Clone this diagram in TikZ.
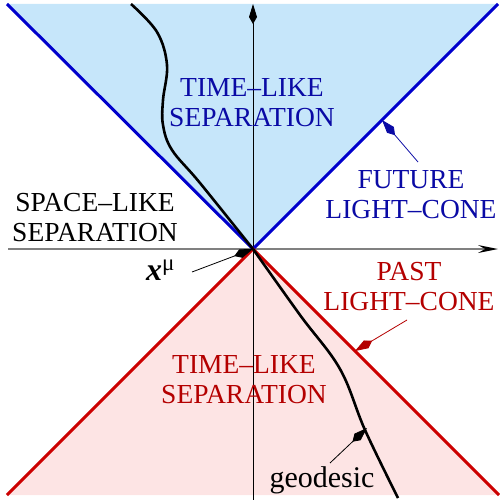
\documentclass[tikz,border=0pt]{standalone}
\usepackage{fontspec}
\setmainfont{LiberationSerif}[Extension=.ttf, UprightFont=*-Regular, BoldFont=*-Bold, ItalicFont=*-Italic, BoldItalicFont=*-BoldItalic]
\usetikzlibrary{arrows.meta}
\definecolor{futfill}{RGB}{198,230,250}
\definecolor{pastfill}{RGB}{253,228,228}
\definecolor{futline}{RGB}{0,0,204}
\definecolor{pastline}{RGB}{204,0,0}
\definecolor{futtext}{RGB}{10,10,165}
\definecolor{pasttext}{RGB}{180,0,0}
\begin{document}
\begin{tikzpicture}[x=1pt,y=-1pt,
    lbl/.style={align=center, font=\fontsize{27.5}{30}\selectfont, inner sep=1pt},
    cone/.style={line width=3pt},
    pin/.style={-{Kite[length=20pt,width=9pt,inset=7pt]}, line width=0.8pt},
    axis/.style={-{Kite[length=20pt,width=8pt,inset=7pt]}}]
  \useasboundingbox (0,0) rectangle (499,500);
  \coordinate (O) at (253,249);
  \fill[futfill] (O) -- (7,4) -- (498,4) -- cycle;
  \fill[pastfill] (O) -- (7,495) -- (499,495) -- cycle;
  \coordinate (xleft) at (8,249);
  \coordinate (xright) at (498,249);
  \coordinate (tbot) at (253,500);
  \coordinate (ttop) at (253,4);
  \draw[gray, line width=1.8pt] (xleft) -- ([xshift=-14pt]xright);
  \fill (xright) -- ++(-20,-4) -- ++(7,4) -- ++(-7,4) -- cycle;
  \draw[axis, line width=0.9pt] (tbot) -- (ttop);
  \draw[cone, futline] (7,4) -- (O) -- (498,4);
  \draw[cone, pastline] (7,495) -- (O) -- (499,495);
  \draw[line width=2.6pt] plot[smooth, tension=0.6] coordinates
    {(131,4) (157,32) (167,65) (163,100) (163,125) (172,150) (200,183) (O)};
  \draw[line width=2.6pt] plot[smooth, tension=0.6] coordinates
    {(O) (300,315) (340,369) (365,430) (398,498)};
  \node[lbl, futtext] (futtl) at (252,103) {TIME–LIKE\\SEPARATION};
  \node[lbl, pasttext] (pasttl) at (244,380) {TIME–LIKE\\SEPARATION};
  \node[lbl] (space) at (95,218) {SPACE–LIKE\\SEPARATION};
  \node[lbl, futtext] (futlbl) at (411,195) {FUTURE\\LIGHT–CONE};
  \node[lbl, pasttext] (pastlbl) at (409,287) {PAST\\LIGHT–CONE};
  \node[lbl, font=\fontsize{30}{30}\selectfont, anchor=base] (geolbl) at (322,487) {geodesic};
  \node[lbl, font=\fontsize{32}{32}\selectfont, anchor=base west] (xlbl) at (145,280)
    {\textbf{\textit{x}}\raisebox{10pt}{\fontsize{23}{23}\selectfont μ}};
  \coordinate (futpt) at (382,120);
  \coordinate (pastpt) at (355,351);
  \coordinate (geopt) at (367,428);
  \draw[pin, futtext] (418,162) -- (futpt);
  \draw[pin, pasttext] (407,320) -- (pastpt);
  \draw[pin] (330,463) -- (geopt);
  \draw[pin] (192,272) -- (O);
\end{tikzpicture}
\end{document}
